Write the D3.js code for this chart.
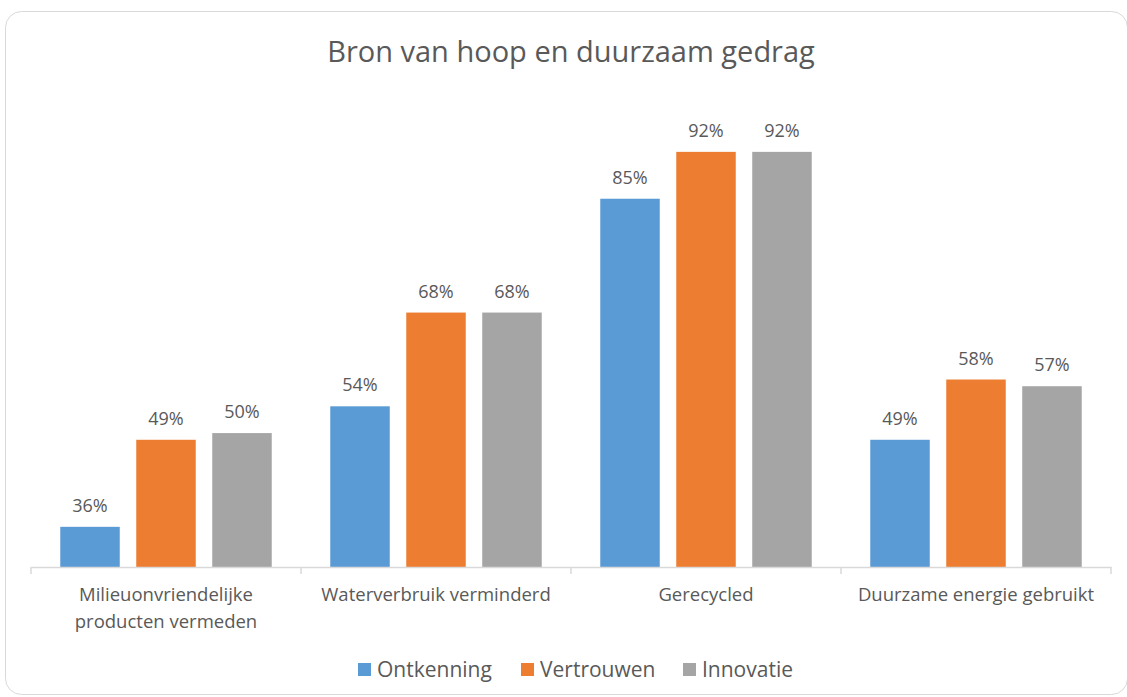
<!DOCTYPE html>
<html>
<head>
<meta charset="utf-8">
<script src="https://cdn.jsdelivr.net/npm/d3@7"></script>
<style>
  body { margin: 0; background: #fff; }
  svg text { font-family: "Open Sans", sans-serif; fill: #595959; }
</style>
</head>
<body>
<div id="chart"></div>
<script>
// chart data
var categories = ["Milieuonvriendelijke producten vermeden", "Waterverbruik verminderd", "Gerecycled", "Duurzame energie gebruikt"];
var series = ["Ontkenning", "Vertrouwen", "Innovatie"];
var ontkenning = [36, 54, 85, 49];
var vertrouwen = [49, 68, 92, 58];
var innovatie = [50, 68, 92, 57];
var seriesValues = [ontkenning, vertrouwen, innovatie];
var colors = ["#5B9BD5", "#ED7D31", "#A5A5A5"];

var width = 1127, height = 697;

var svg = d3.select("#chart").append("svg")
    .attr("width", width)
    .attr("height", height);

// frame
svg.append("rect")
    .attr("x", 5.5).attr("y", 11.5)
    .attr("width", 1122).attr("height", 683)
    .attr("rx", 16).attr("ry", 16)
    .attr("fill", "#fff")
    .attr("stroke", "#d9d9d9");

svg.append("text")
    .attr("x", 571).attr("y", 62)
    .attr("text-anchor", "middle")
    .style("font-size", "29px")
    .text("Bron van hoop en duurzaam gedrag");

var x = d3.scaleBand()
    .domain(categories)
    .range([31, 1111]);

var xInner = d3.scaleBand()
    .domain(series)
    .range([0, x.bandwidth()])
    .paddingInner(0.217)
    .paddingOuter(0.385);

var y = d3.scaleLinear()
    .domain([30, 100])
    .range([567, 98.3]);

var rows = [];
categories.forEach(function (c, i) {
  series.forEach(function (s, j) {
    rows.push({cat: c, series: s, value: seriesValues[j][i], color: colors[j]});
  });
});

var bars = svg.append("g");
bars.selectAll("rect")
    .data(rows)
  .enter().append("rect")
    .attr("x", function (d) { return x(d.cat) + xInner(d.series); })
    .attr("y", function (d) { return y(d.value); })
    .attr("width", xInner.bandwidth())
    .attr("height", function (d) { return y(30) - y(d.value); })
    .attr("fill", function (d) { return d.color; });

bars.selectAll("text")
    .data(rows)
  .enter().append("text")
    .attr("x", function (d) { return x(d.cat) + xInner(d.series) + xInner.bandwidth() / 2; })
    .attr("y", function (d) { return y(d.value) - 15; })
    .attr("text-anchor", "middle")
    .style("font-size", "18px")
    .text(function (d) { return d.value + "%"; });

// x axis
var axis = svg.append("g")
    .attr("transform", "translate(0,567)")
    .call(d3.axisBottom(x).tickSize(0).tickFormat(""));
axis.select(".domain").attr("stroke", "#d9d9d9").attr("stroke-width", 1.5);

// category separators
var edges = categories.map(function (c) { return x(c); }).concat([x.range()[1]]);
axis.selectAll(".sep")
    .data(edges)
  .enter().append("line")
    .attr("class", "sep")
    .attr("x1", function (d) { return d; })
    .attr("x2", function (d) { return d; })
    .attr("y1", 0).attr("y2", 7)
    .attr("stroke", "#d9d9d9")
    .attr("stroke-width", 1.5);

var catLabels = svg.append("g").selectAll("text")
    .data(categories)
  .enter().append("text")
    .attr("x", function (d) { return x(d) + x.bandwidth() / 2; })
    .attr("y", 601)
    .attr("text-anchor", "middle")
    .style("font-size", "18.5px")
    .text(function (d) { return d; })
    .call(wrap, 245);

// legend
var legendX = [358, 521, 683];
var legend = svg.append("g").selectAll("g")
    .data(series)
  .enter().append("g")
    .attr("transform", function (d, i) { return "translate(" + legendX[i] + ",663)"; });
legend.append("rect")
    .attr("width", 13).attr("height", 13)
    .attr("fill", function (d, i) { return colors[i]; });
legend.append("text")
    .attr("x", 19).attr("y", 14)
    .style("font-size", "21px")
    .text(function (d) { return d; });

function wrap(text, width) {
  text.each(function () {
    var text = d3.select(this),
        words = text.text().split(/\s+/).reverse(),
        word,
        line = [],
        xPos = text.attr("x"),
        tspan = text.text(null).append("tspan").attr("x", xPos).attr("dy", 0);
    while (word = words.pop()) {
      line.push(word);
      tspan.text(line.join(" "));
      if (tspan.node().getComputedTextLength() > width && line.length > 1) {
        line.pop();
        tspan.text(line.join(" "));
        line = [word];
        tspan = text.append("tspan").attr("x", xPos).attr("dy", "27px").text(word);
      }
    }
  });
}
</script>
</body>
</html>
